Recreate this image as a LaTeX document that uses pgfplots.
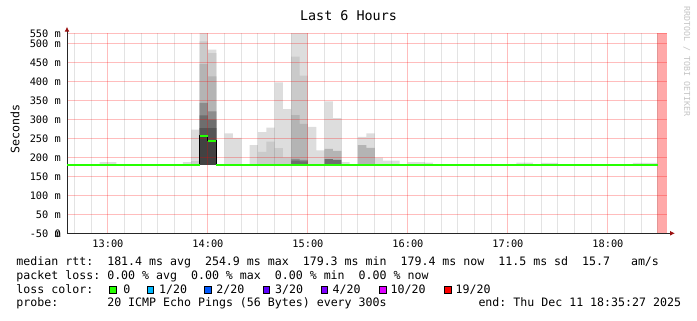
\documentclass[border=0pt]{standalone}
\usepackage{fontspec}
\setmainfont{DejaVu Sans Mono}
\setmonofont{DejaVu Sans Mono}
\usepackage{pgfplots}
\usepackage{pgfplotstable}
\pgfplotsset{compat=1.18}
\usetikzlibrary{arrows.meta}
\definecolor{Lone}{HTML}{DDDDDD}
\definecolor{Ltwo}{HTML}{CACACA}
\definecolor{Lthree}{HTML}{B4B4B4}
\definecolor{Lfour}{HTML}{8C8C8C}
\definecolor{Lfive}{HTML}{6E6E6E}
\definecolor{Lsix}{HTML}{555555}
\definecolor{Lseven}{HTML}{424242}
\definecolor{medgreen}{HTML}{26FF00}
\definecolor{lossA}{HTML}{00B8FF}
\definecolor{lossB}{HTML}{0059FF}
\definecolor{lossC}{HTML}{5E00FF}
\definecolor{lossD}{HTML}{7E00FF}
\definecolor{lossE}{HTML}{DD00FF}
\definecolor{lossF}{HTML}{FF0000}
\definecolor{pinkbar}{HTML}{FFA8A8}
\definecolor{arrowred}{HTML}{9A1010}
\definecolor{wmgray}{HTML}{C4C4C4}

% smoke layers: each column = 5-minute bin starting at x (minutes after 12:00)
\pgfplotstableread{
x L1 L2 L3 L4 L5 L6 L7
35 0 0 0 0 0 0 0
40 0 0 0 0 0 0 0
45 0 0 0 0 0 0 0
50 0 0 0 0 0 0 0
55 187 0 0 0 0 0 0
60 187 0 0 0 0 0 0
65 0 0 0 0 0 0 0
70 0 0 0 0 0 0 0
75 0 0 0 0 0 0 0
80 0 0 0 0 0 0 0
85 0 0 0 0 0 0 0
90 0 0 0 0 0 0 0
95 0 0 0 0 0 0 0
100 0 0 0 0 0 0 0
105 187 0 0 0 0 0 0
110 273 190 0 0 0 0 0
115 530 505 445 343 310 277 255
120 483 474 413 321 299 277 244
125 0 0 0 0 0 0 0
130 263 0 0 0 0 0 0
135 251 0 0 0 0 0 0
140 0 0 0 0 0 0 0
145 232 0 0 0 0 0 0
150 266 214 0 0 0 0 0
155 278 241 0 0 0 0 0
160 397 224 0 0 0 0 0
165 327 200 0 0 0 0 0
170 530 465 311 196 191 0 0
175 530 415 288 193 189 0 0
180 280 0 0 0 0 0 0
185 218 0 0 0 0 0 0
190 347 0 222 0 195 0 0
195 303 0 217 0 193 0 0
200 187 0 0 0 0 0 0
205 0 0 0 0 0 0 0
210 254 0 232 0 0 0 0
215 263 0 225 0 0 0 0
220 199 0 0 0 0 0 0
225 191 0 0 0 0 0 0
230 191 0 0 0 0 0 0
235 0 0 0 0 0 0 0
240 187 0 0 0 0 0 0
245 187 0 0 0 0 0 0
250 186 0 0 0 0 0 0
255 0 0 0 0 0 0 0
260 0 0 0 0 0 0 0
265 0 0 0 0 0 0 0
270 0 0 0 0 0 0 0
275 0 0 0 0 0 0 0
280 0 0 0 0 0 0 0
285 0 0 0 0 0 0 0
290 0 0 0 0 0 0 0
295 0 0 0 0 0 0 0
300 0 0 0 0 0 0 0
305 186 0 0 0 0 0 0
310 186 0 0 0 0 0 0
315 0 0 0 0 0 0 0
320 185 0 0 0 0 0 0
325 185 0 0 0 0 0 0
330 0 0 0 0 0 0 0
335 0 0 0 0 0 0 0
340 0 0 0 0 0 0 0
345 0 0 0 0 0 0 0
350 0 0 0 0 0 0 0
355 0 0 0 0 0 0 0
360 0 0 0 0 0 0 0
365 0 0 0 0 0 0 0
370 0 0 0 0 0 0 0
375 185 0 0 0 0 0 0
380 185 0 0 0 0 0 0
385 185 0 0 0 0 0 0
390 185 0 0 0 0 0 0
}\smoke

\pgfplotstableread{
x med
35 181
115 257
120 243
125 181
390 181
}\median

\pgfplotsset{
  rrdgeom/.style={
    at={(67bp,87.7bp)}, anchor=south west,
    width=600bp, height=200bp, scale only axis,
    xmin=35.45, xmax=395.45, ymin=0, ymax=526.3,
  },
}
\newcommand{\legfont}{\fontsize{11.6bp}{13.6bp}\selectfont}
\newcommand{\tickfont}{\fontsize{10.3bp}{12bp}\selectfont}

\begin{document}
\frenchspacing
\begin{tikzpicture}
\useasboundingbox (0,0) rectangle (697bp,321bp);

% ---- smoke layer axis (drawn beneath the grid)
\begin{axis}[rrdgeom, hide axis]
\addplot[const plot, fill=Lone, draw=none] table[x=x,y=L1]{\smoke} \closedcycle;
\addplot[const plot, fill=Ltwo, draw=none] table[x=x,y=L2]{\smoke} \closedcycle;
\addplot[const plot, fill=Lthree, draw=none] table[x=x,y=L3]{\smoke} \closedcycle;
\addplot[const plot, fill=Lfour, draw=none] table[x=x,y=L4]{\smoke} \closedcycle;
\addplot[const plot, fill=Lfive, draw=none] table[x=x,y=L5]{\smoke} \closedcycle;
\addplot[const plot, fill=Lsix, draw=none] table[x=x,y=L6]{\smoke} \closedcycle;
\addplot[const plot, fill=Lseven, draw=none] table[x=x,y=L7]{\smoke} \closedcycle;
\addplot[fill=white, draw=none] coordinates {(30,179.5) (400,179.5)} \closedcycle;
\addplot[fill=pinkbar, draw=none] coordinates {(389.45,0) (389.45,526.3) (395.45,526.3) (395.45,0)} -- cycle;
\end{axis}

% ---- grid, axes, median
\begin{axis}[rrdgeom,
  axis lines=left,
  axis line style={black!85, line width=1bp},
  x axis line style={-{Latex[length=5bp,width=5bp,color=arrowred]}, shorten >=-8bp},
  y axis line style={-{Latex[length=5bp,width=5bp,color=arrowred]}, shorten >=-6.6bp},
  xtick={60,120,180,240,300,360},
  xticklabels={13:00,14:00,15:00,16:00,17:00,18:00},
  minor xtick={40,50,70,80,90,100,110,130,140,150,160,170,190,200,210,220,230,250,260,270,280,290,310,320,330,340,350,370,380,390},
  ytick={0,50,100,150,200,250,300,350,400,450,500,526.3},
  yticklabels={-50 m,50 m,100 m,150 m,200 m,250 m,300 m,350 m,400 m,450 m,500 m,550 m},
  extra y ticks={0}, extra y tick labels={0},
  extra y tick style={grid=none},
  grid=both,
  major grid style={draw=red, opacity=0.26, line width=1bp},
  minor grid style={draw=black, opacity=0.11, line width=1bp},
  major tick length=0pt, minor tick length=0pt,
  tick label style={font=\tickfont},
  x tick label style={anchor=base, inner sep=0pt, yshift=-14bp},
  y tick label style={anchor=east, inner sep=0pt, xshift=-6bp},
]
\addplot[black, line width=1bp, const plot] table[x=x,y=med]{\median};
\addplot[medgreen, line width=2bp, jump mark left] table[x=x,y=med]{\median};
\end{axis}

% ---- texts
\node[anchor=base, inner sep=0pt, font=\fontsize{13.4bp}{16bp}\selectfont] at (348.5bp,300.5bp) {Last~6~Hours};
\node[rotate=90, inner sep=0pt, font=\legfont] at (15bp,192bp) {Seconds};
\node[rotate=-90, inner sep=0pt, font=\fontsize{8.3bp}{10bp}\selectfont, text=wmgray] at (686.7bp,259.7bp) {RRDTOOL~/~TOBI~OETIKER};

\node[anchor=base west, inner sep=0pt, font=\legfont] at (16.3bp,55bp)
  {median~rtt:~~181.4~ms~avg~~254.9~ms~max~~179.3~ms~min~~179.4~ms~now~~11.5~ms~sd~~15.7~~~am/s};
\node[anchor=base west, inner sep=0pt, font=\legfont] at (16.3bp,41.5bp)
  {packet~loss:~0.00~\%~avg~~0.00~\%~max~~0.00~\%~min~~0.00~\%~now};
\node[anchor=base west, inner sep=0pt, font=\legfont] at (16.3bp,27.8bp) {loss~color:};
\node[anchor=base west, inner sep=0pt, font=\legfont] at (16.3bp,14.2bp)
  {probe:~~~~~~~20~ICMP~Echo~Pings~(56~Bytes)~every~300s};
\node[anchor=base west, inner sep=0pt, font=\legfont] at (478.3bp,14.2bp)
  {end:~Thu~Dec~11~18:35:27~2025};

% loss colour legend
\filldraw[fill=medgreen, draw=black, line width=0.8bp] (109.4bp,27.9bp) rectangle (116.2bp,34.7bp);
\node[anchor=base west, inner sep=0pt, font=\legfont] at (123.2bp,27.8bp) {0};
\filldraw[fill=lossA, draw=black, line width=0.8bp] (147bp,27.9bp) rectangle (153.8bp,34.7bp);
\node[anchor=base west, inner sep=0pt, font=\legfont] at (158.9bp,27.8bp) {1/20};
\filldraw[fill=lossB, draw=black, line width=0.8bp] (204.3bp,27.9bp) rectangle (211.1bp,34.7bp);
\node[anchor=base west, inner sep=0pt, font=\legfont] at (216.2bp,27.8bp) {2/20};
\filldraw[fill=lossC, draw=black, line width=0.8bp] (263bp,27.9bp) rectangle (269.8bp,34.7bp);
\node[anchor=base west, inner sep=0pt, font=\legfont] at (274.9bp,27.8bp) {3/20};
\filldraw[fill=lossD, draw=black, line width=0.8bp] (321bp,27.9bp) rectangle (327.8bp,34.7bp);
\node[anchor=base west, inner sep=0pt, font=\legfont] at (332.5bp,27.8bp) {4/20};
\filldraw[fill=lossE, draw=black, line width=0.8bp] (379.3bp,27.9bp) rectangle (386.1bp,34.7bp);
\node[anchor=base west, inner sep=0pt, font=\legfont] at (390.5bp,27.8bp) {10/20};
\filldraw[fill=lossF, draw=black, line width=0.8bp] (444.3bp,27.9bp) rectangle (451.1bp,34.7bp);
\node[anchor=base west, inner sep=0pt, font=\legfont] at (455.5bp,27.8bp) {19/20};
\end{tikzpicture}
\end{document}
